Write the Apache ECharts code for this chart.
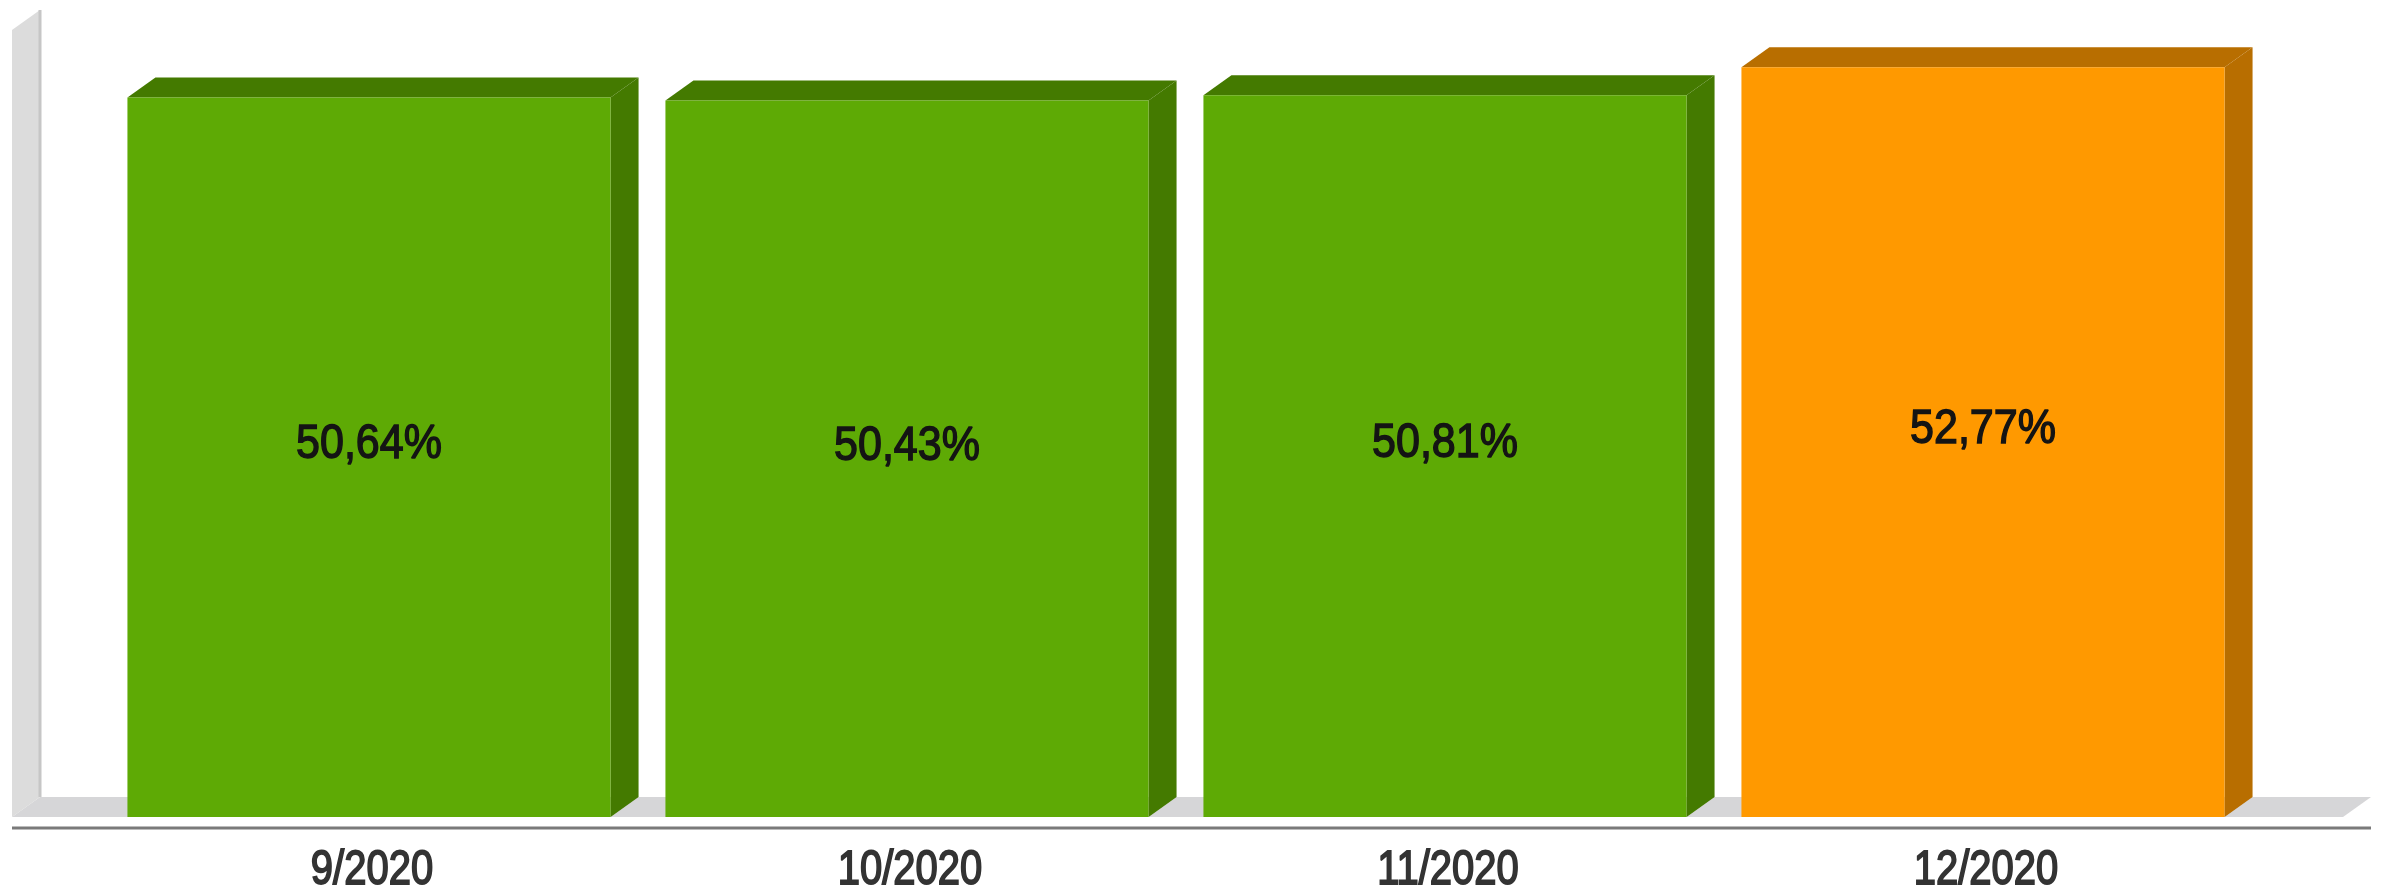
<!DOCTYPE html>
<html>
<head>
<meta charset="utf-8">
<script src="https://cdn.jsdelivr.net/npm/echarts@6/dist/echarts.min.js"></script>
<style>
html,body{margin:0;padding:0;background:#fff;}
#chart{width:2389px;height:888px;}
</style>
</head>
<body>
<div id="chart"></div>
<script>
// ---- data ----
const categories = ['9/2020', '10/2020', '11/2020', '12/2020'];
const values = [50.64, 50.43, 50.81, 52.77];
const valueLabels = ['50,64%', '50,43%', '50,81%', '52,77%'];

// ---- style ----
const FRONT = ['#5eaa05', '#5eaa05', '#5eaa05', '#ff9900'];
const DARK  = ['#447a00', '#447a00', '#447a00', '#b86e00'];
const DX = 28, DY = -20;          // 3D depth offset
const BAR_RATIO = 0.898;          // bar width / band width
const FLOOR_EXT_L = 88, FLOOR_EXT_R = 91;
const FONT = '"Liberation Sans", Arial, sans-serif';

const chart = echarts.init(document.getElementById('chart'), null, {renderer: 'canvas'});

function renderBar(params, api) {
  const i = api.value(0);
  const v = api.value(1);
  const top = api.coord([i, v]);
  const base = api.coord([i, 0]);
  const band = api.size([1, 0])[0];
  const w = band * BAR_RATIO;
  const x0 = top[0] - w / 2, x1 = top[0] + w / 2;
  const y0 = top[1], y1 = base[1];
  return {
    type: 'group',
    children: [
      { type: 'polygon', shape: { points: [[x1, y0], [x1 + DX, y0 + DY], [x1 + DX, y1 + DY], [x1, y1]] },
        style: { fill: DARK[i] } },
      { type: 'polygon', shape: { points: [[x0, y0], [x0 + DX, y0 + DY], [x1 + DX, y0 + DY], [x1, y0]] },
        style: { fill: DARK[i] } },
      { type: 'rect', shape: { x: x0, y: y0, width: w, height: y1 - y0 },
        style: { fill: FRONT[i] } },
      { type: 'text', x: top[0], y: (y0 + y1) / 2 - 12, scaleY: 1.1,
        style: { text: valueLabels[i], fill: '#141414', font: '43px ' + FONT,
                 stroke: '#141414', lineWidth: 1.3,
                 align: 'center', verticalAlign: 'middle' } },
      // category label under the axis
      { type: 'text', x: base[0] + 3, y: y1 + 54, scaleY: 1.22,
        style: { text: categories[i], fill: '#333333', font: '40px ' + FONT,
                 stroke: '#333333', lineWidth: 1.5,
                 align: 'center', verticalAlign: 'middle' } }
    ]
  };
}

function renderFrame(params, api) {
  if (params.dataIndex !== 0) return null;
  const cs = params.coordSys;
  const yb = cs.y + cs.height;          // floor front line
  const yt = cs.y;                      // wall front top
  const xl = cs.x - FLOOR_EXT_L;
  const xr = cs.x + cs.width + FLOOR_EXT_R;
  return {
    type: 'group',
    children: [
      // floor
      { type: 'polygon', shape: { points: [[xl, yb], [xl + DX, yb + DY], [xr + DX, yb + DY], [xr, yb]] },
        style: { fill: '#d6d6d8' } },
      // left wall
      { type: 'polygon', shape: { points: [[xl, yb], [xl, yt], [xl + DX, yt + DY], [xl + DX, yb + DY]] },
        style: { fill: '#dcdcdc' } },
      { type: 'line', shape: { x1: xl + DX, y1: yt + DY, x2: xl + DX, y2: yb + DY },
        style: { stroke: '#c6c6c6', lineWidth: 3 } },
      // axis line
      { type: 'line', shape: { x1: xl, y1: yb + 11, x2: xr + DX, y2: yb + 11 },
        style: { stroke: '#7a7a7a', lineWidth: 3 } }
    ]
  };
}

chart.setOption({
  animation: false,
  backgroundColor: '#ffffff',
  grid: { left: 100, right: 137, top: 30, bottom: 71, containLabel: false },
  xAxis: {
    type: 'category',
    data: categories,
    axisLine: { show: false },
    axisTick: { show: false },
    axisLabel: { show: false }
  },
  yAxis: {
    type: 'value', min: 0, max: 55.4,
    show: false,
    splitLine: { show: false }
  },
  series: [
    { type: 'custom', renderItem: renderFrame, data: [[0, 0]], z: 1, silent: true },
    { type: 'custom', renderItem: renderBar, data: values.map((v, i) => [i, v]), z: 2, clip: false }
  ]
});
</script>
</body>
</html>
